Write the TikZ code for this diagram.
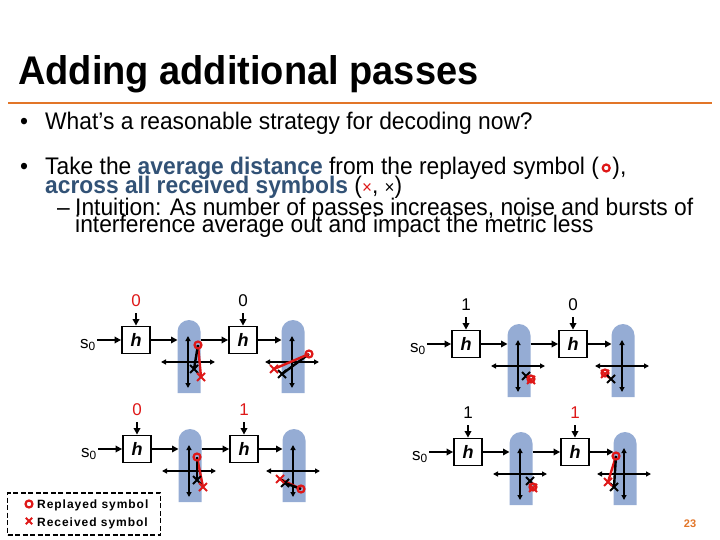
\documentclass[tikz,border=0pt]{standalone}
\usepackage{fontspec}
\setmainfont{Liberation Sans}
\newfontfamily\titlefont[FakeStretch=0.95]{Liberation Sans}
\newfontfamily\bodyfont[FakeStretch=0.95]{Liberation Sans}
\newfontfamily\legfont[LetterSpace=8]{Liberation Sans}
\usetikzlibrary{arrows.meta}
\definecolor{orng}{RGB}{226,117,40}
\definecolor{pillblue}{RGB}{149,172,212}
\definecolor{keyblue}{RGB}{50,82,118}
\definecolor{symred}{RGB}{222,24,24}
\tikzset{
  hbox/.style={draw, line width=1.8pt, minimum width=28pt, minimum height=27pt, inner sep=0pt,
    font=\fontsize{18}{18}\selectfont\bfseries\itshape},
  num/.style={font=\fontsize{17}{17}\selectfont, inner sep=1pt},
  flow/.style={line width=2pt, -{Triangle[length=6.5pt,width=6.5pt]}},
  axis/.style={line width=1.3pt, {Triangle[length=5pt,width=5pt]}-{Triangle[length=5pt,width=5pt]}},
  body/.style={font=\bodyfont\fontsize{24}{24}\selectfont, inner sep=0pt, anchor=base west},
  legtext/.style={font=\legfont\bfseries\fontsize{12}{12}\selectfont, inner sep=0pt, anchor=base west},
  xm/.pic={\draw[line width=1.8pt, pic actions] (-4,-4) -- (4,4) (-4,4) -- (4,-4);},
  rc/.pic={\draw[line width=2.2pt, symred] (0,0) circle (3.5);},
  mline/.style={line width=2.4pt},
}
\newcommand\pillshape[1]{%
  \fill[pillblue] (#1-11.5,53) -- (#1-11.5,-8.5) arc (180:360:11.5) -- (#1+11.5,53) -- cycle;
  \draw[axis] (#1-1,-4) -- (#1-1,48);
  \draw[axis] (#1-28,22) -- (#1+26,22);}
\newcommand\stagegroup[6]{%
\begin{scope}[shift={#2}]
  \pillshape{53}
  \pillshape{157}
  \coordinate (#1a1) at (52,22);
  \coordinate (#1a2) at (156,22);
  \coordinate (#1p1w) at (41.5,0);
  \coordinate (#1p1e) at (64.5,0);
  \coordinate (#1p2w) at (145.5,0);
  \node[hbox] (#1b1) at (0,0) {h};
  \node[hbox] (#1b2) at (107,0) {h};
  \node[num, text=#4] (#1l1) at (0,-39) {#3};
  \node[num, text=#6] (#1l2) at (107,-39) {#5};
  \node[num] (#1s) at (-48,5) {s\textsubscript{0}};
  \draw[flow] (#1s.east |- #1b1) -- (#1b1);
  \draw[flow, shorten <=5pt] (#1l1) -- (#1b1);
  \draw[flow] (#1b1) -- (#1p1w);
  \draw[flow] (#1p1e) -- (#1b2);
  \draw[flow, shorten <=5pt] (#1l2) -- (#1b2);
  \draw[flow] (#1b2) -- (#1p2w);
\end{scope}}
\begin{document}
\begin{tikzpicture}[x=1pt,y=-1pt]
\useasboundingbox (0,0) rectangle (720,540);
% title
\node[anchor=base west, inner sep=0pt, font=\titlefont\bfseries\fontsize{40}{40}\selectfont] (title) at (18,85) {Adding additional passes};
\draw[orng, line width=2.5pt] (8,103) -- (712,103);
% bullets
\node[body] (d1) at (20,130) {•};
\node[body] (t1) at (45,130) {What’s a reasonable strategy for decoding now?};
\node[body] (d2) at (20,175) {•};
\node[body] (t2a) at (45,175) {Take the \textcolor{keyblue}{\bfseries average distance} from the replayed symbol (};
\pic at ([xshift=7pt,yshift=7pt]t2a.base east) {rc};
\node[body] (t2b) at ([xshift=13pt]t2a.base east) {),};
\node[body] (t3) at (45,194) {\textcolor{keyblue}{\bfseries across all received symbols} (\textcolor{symred}{\fontsize{18}{18}\selectfont ×}, {\fontsize{18}{18}\selectfont ×})};
\node[body] (d3) at (57,215) {–};
\node[body] (t4) at (75,215) {Intuition: As number of passes increases, noise and bursts of};
\node[body] (t5) at (75,233) {interference average out and impact the metric less};
% diagrams
\stagegroup{A}{(136,340)}{0}{symred}{0}{black}
\stagegroup{B}{(466,344)}{1}{black}{0}{black}
\stagegroup{C}{(137,449)}{0}{symred}{1}{symred}
\stagegroup{D}{(468,452)}{1}{black}{1}{symred}
% marks A1
\begin{scope}[shift={(Aa1)}]
  \draw[mline, symred] (10,-17) -- (13,15);
  \draw[mline] (10,-17) -- (6,7);
  \pic at (6,7) {xm}; \pic[symred] at (13,15) {xm}; \pic at (10,-17) {rc};
\end{scope}
% marks A2
\begin{scope}[shift={(Aa2)}]
  \draw[mline] (17,-8) -- (-10,12);
  \draw[mline, symred] (17,-8) -- (-18,7);
  \pic at (-10,12) {xm}; \pic[symred] at (-18,7) {xm}; \pic at (17,-8) {rc};
\end{scope}
% marks B1
\begin{scope}[shift={(Ba1)}]
  \pic at (8,10) {xm}; \pic[symred] at (13,14) {xm}; \pic at (13,13) {rc};
\end{scope}
% marks B2
\begin{scope}[shift={(Ba2)}]
  \pic[symred] at (-17,8) {xm}; \pic at (-17,7) {rc}; \pic at (-11,13) {xm};
\end{scope}
% marks C1
\begin{scope}[shift={(Ca1)}]
  \draw[mline, symred] (8,-14) -- (14,16);
  \draw[mline] (8,-14) -- (8,9);
  \pic at (8,9) {xm}; \pic[symred] at (14,16) {xm}; \pic at (8,-14) {rc};
\end{scope}
% marks C2
\begin{scope}[shift={(Ca2)}]
  \draw[mline, symred] (8,18) -- (-13,8);
  \draw[mline] (8,18) -- (-8,12);
  \pic at (-8,12) {xm}; \pic[symred] at (-13,8) {xm}; \pic at (8,18) {rc};
\end{scope}
% marks D1
\begin{scope}[shift={(Da1)}]
  \pic at (10,7) {xm}; \pic[symred] at (13,14) {xm}; \pic at (13,13) {rc};
\end{scope}
% marks D2
\begin{scope}[shift={(Da2)}]
  \draw[mline, symred] (-8,-18) -- (-16,8);
  \draw[mline] (-8,-18) -- (-10,13);
  \pic at (-10,13) {xm}; \pic[symred] at (-16,8) {xm}; \pic at (-8,-18) {rc};
\end{scope}
% legend
\node[draw, line width=1.5pt, dash pattern=on 5pt off 2.5pt, minimum width=153pt, minimum height=42pt, inner sep=0pt] (legend) at (84,514) {};
\pic at (29,504) {rc};
\node[legtext] (leg1) at (37,508) {Replayed symbol};
\pic[symred, scale=0.8] at (29,521) {xm};
\node[legtext] (leg2) at (37,526) {Received symbol};
% page number
\node[text=orng, font=\bfseries\fontsize{11}{11}\selectfont, inner sep=0pt] (pg) at (690,524) {23};
\end{tikzpicture}
\end{document}
